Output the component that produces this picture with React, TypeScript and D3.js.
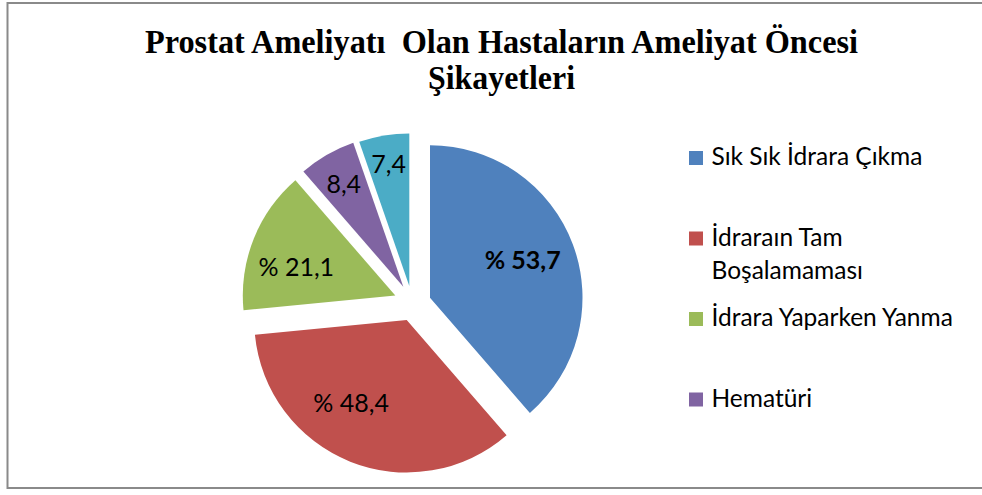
import React from "react";
import * as d3 from "d3";

// ---- data ----
const categories: string[] = [
  "Sık Sık İdrara Çıkma",
  "İdraraın Tam Boşalamaması",
  "İdrara Yaparken Yanma",
  "Hematüri",
  "",
];
const legendLines: string[][] = [
  ["Sık Sık İdrara Çıkma"],
  ["İdraraın Tam", "Boşalamaması"],
  ["İdrara Yaparken Yanma"],
  ["Hematüri"],
];
const values: number[] = [53.7, 48.4, 21.1, 8.4, 7.4];
const valueLabels: string[] = ["% 53,7", "% 48,4", "% 21,1", "8,4", "7,4"];
const titleLines: string[] = [
  "Prostat Ameliyatı  Olan Hastaların Ameliyat Öncesi",
  "Şikayetleri",
];

// ---- style / layout ----
const colors = ["#4F81BD", "#C0504D", "#9BBB59", "#8064A2", "#4BACC6"];
const W = 982;
const H = 495;
const CX = 412;
const CY = 296;
const R = 152.5;
// per-slice explosion offsets (dx, dy)
const explode: [number, number][] = [
  [18, 1.7],
  [-5.3, 24],
  [-16.7, -0.5],
  [-8.7, -9.3],
  [-2.7, -10.1],
];
const labelRadius = [100, 100, 103, 119, 124];
const labelNudgeDeg = [-1.5, 12, -5.7, 0, 0];
const labelBold = [true, false, false, false, false];

const keepSpaces = (s: string) => s.replace(/  /g, " \u00A0");

export default function App() {
  const pie = d3
    .pie<number>()
    .sort(null)
    .value((d) => d)
    .startAngle(0)
    .endAngle(2 * Math.PI);
  const arcs = pie(values);
  const arc = d3.arc<d3.PieArcDatum<number>>().innerRadius(0).outerRadius(R);

  const legendY = d3.scaleLinear().domain([0, 3]).range([165, 406.5]);

  const labelFont = "Lato, 'Noto Sans', sans-serif";

  return (
    <div style={{ position: "absolute", left: 0, top: 0 }}>
      <svg width={W} height={H} style={{ display: "block", background: "#fff" }}>
        <rect x={0} y={0} width={W} height={H} fill="#fff" />
        <rect
          x={7.5}
          y={3}
          width={W + 10}
          height={485}
          fill="none"
          stroke="#8a8a8a"
          strokeWidth={2}
        />
        {/* title */}
        <g
          fontFamily="'Liberation Serif', 'Times New Roman', serif"
          fontWeight="bold"
          fill="#000"
        >
          <text
            x={501.5}
            y={53}
            fontSize={33}
            textAnchor="middle"
            textLength={713}
            lengthAdjust="spacingAndGlyphs"
          >
            {keepSpaces(titleLines[0])}
          </text>
          <text
            x={501.5}
            y={89}
            fontSize={33}
            textAnchor="middle"
            textLength={147}
            lengthAdjust="spacingAndGlyphs"
          >
            {titleLines[1]}
          </text>
        </g>
        {/* pie */}
        {arcs.map((a, i) => {
          const [dx, dy] = explode[i];
          const ox = CX + dx;
          const oy = CY + dy;
          const mid = (a.startAngle + a.endAngle) / 2 + (labelNudgeDeg[i] * Math.PI) / 180;
          const lx = ox + labelRadius[i] * Math.sin(mid);
          const ly = oy - labelRadius[i] * Math.cos(mid);
          return (
            <g key={i}>
              <path d={arc(a) || ""} transform={`translate(${ox},${oy})`} fill={colors[i]} />
              <text
                x={lx}
                y={ly}
                dy="0.36em"
                textAnchor="middle"
                fontFamily={labelFont}
                fontSize={25}
                fontWeight={labelBold[i] ? "bold" : "normal"}
                fill="#000"
              >
                {valueLabels[i]}
              </text>
            </g>
          );
        })}
        {/* legend */}
        {legendLines.map((lines, i) => {
          const by = legendY(i);
          return (
            <g key={categories[i]}>
              <rect x={689} y={by - 14} width={14} height={14} fill={colors[i]} />
              {lines.map((ln, j) => (
                <text
                  key={j}
                  x={711.5}
                  y={by + j * 33.3}
                  fontFamily={labelFont}
                  fontSize={24.5}
                  fill="#000"
                >
                  {ln}
                </text>
              ))}
            </g>
          );
        })}
      </svg>
    </div>
  );
}
